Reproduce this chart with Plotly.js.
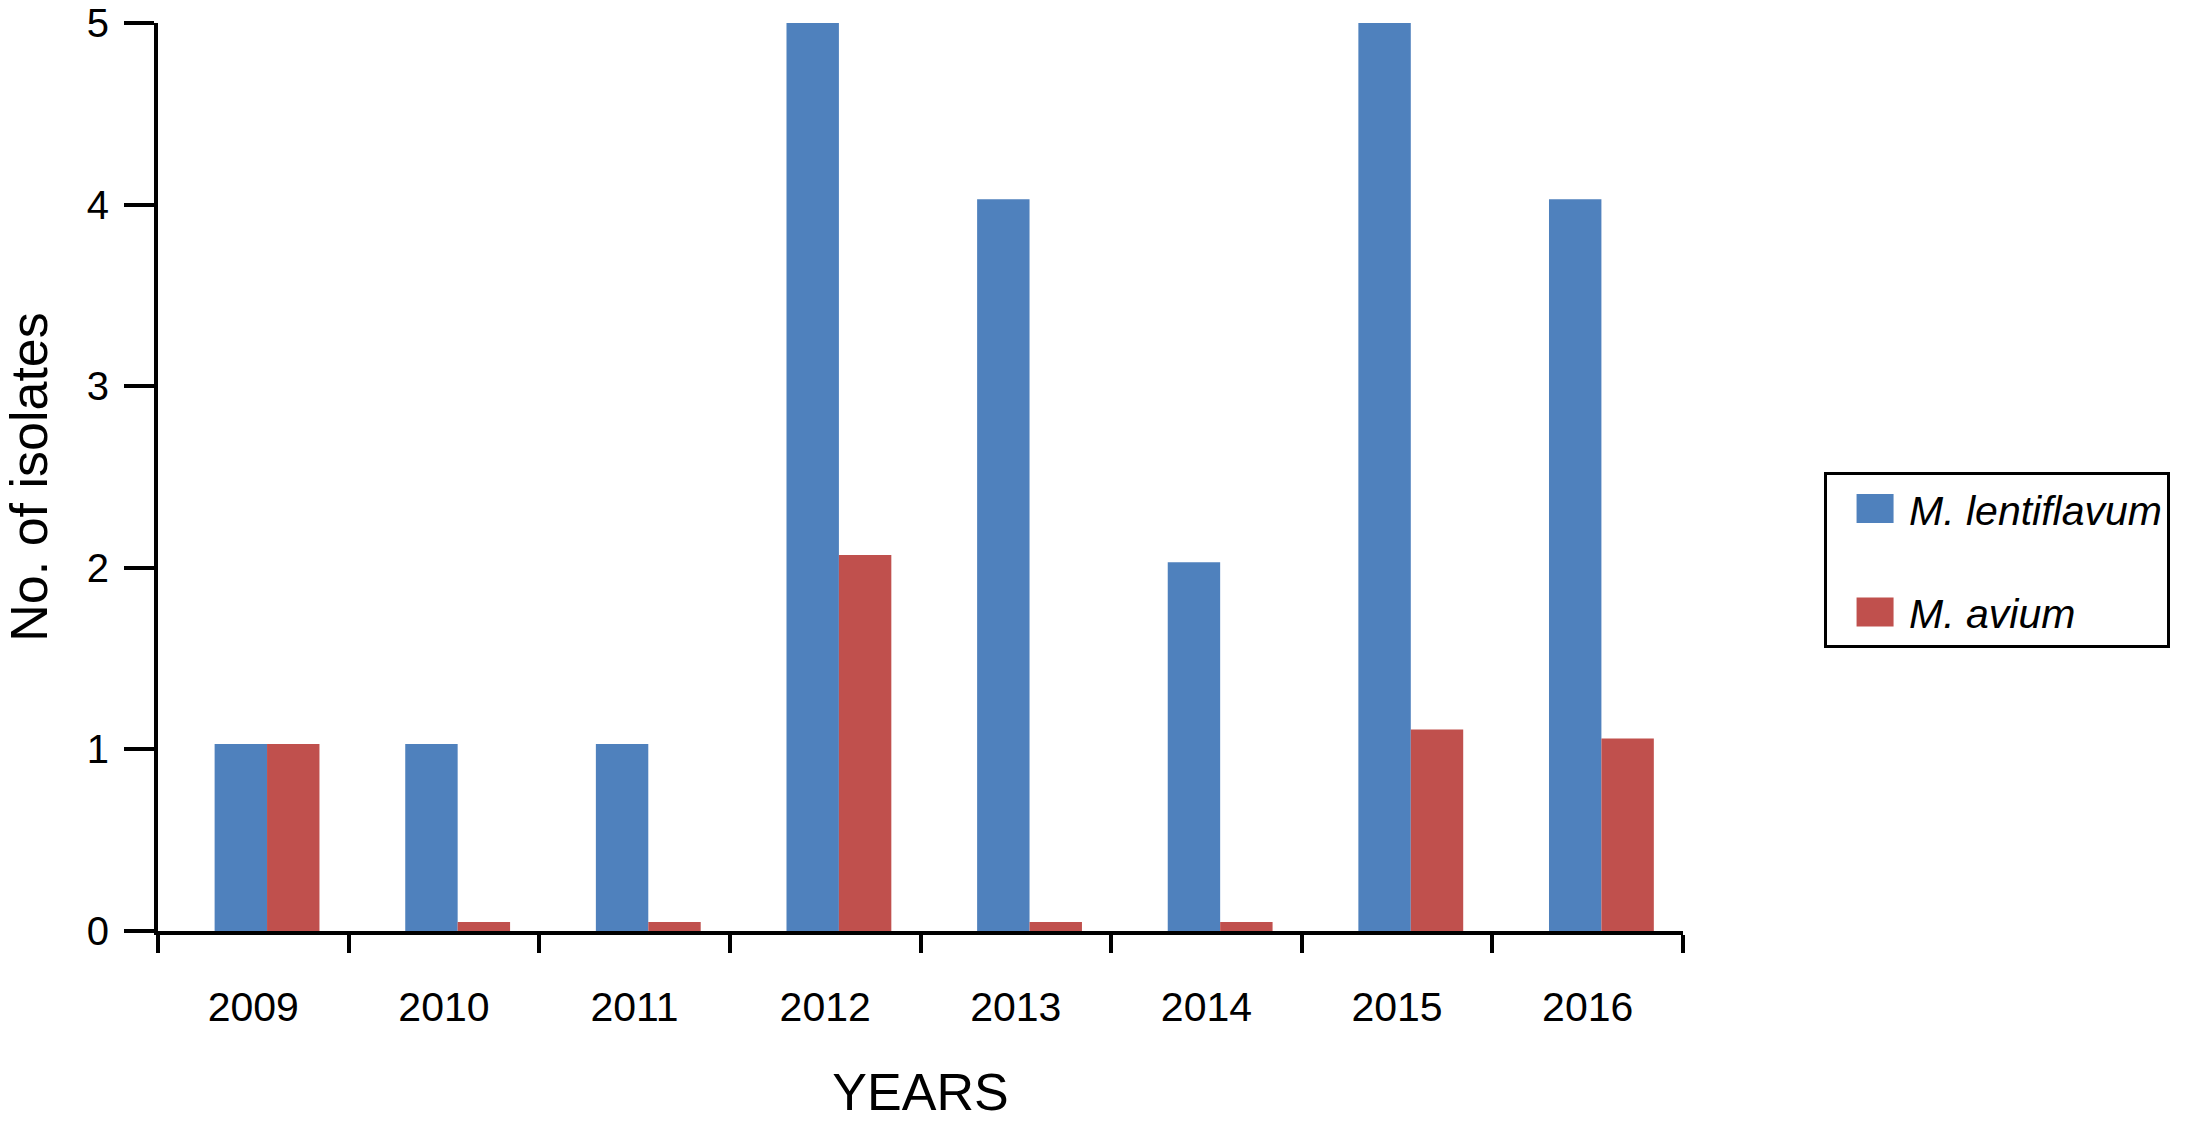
<!DOCTYPE html>
<html><head><meta charset="utf-8">
<script src="https://cdn.plot.ly/plotly-3.0.1.min.js"></script>
<style>html,body{margin:0;padding:0;background:#fff}</style>
</head><body>
<div id="chart" style="width:2186px;height:1127px"></div>
<script>
const years = ['2009','2010','2011','2012','2013','2014','2015','2016'];
const lentiflavum = [1.03, 1.03, 1.03, 5.03, 4.03, 2.03, 5.05, 4.03];
const avium = [1.03, 0.05, 0.05, 2.07, 0.05, 0.05, 1.11, 1.06];
const seriesNames = ['M. lentiflavum', 'M. avium'];
const yTicks = [0, 1, 2, 3, 4, 5];

const FONT = 'Liberation Sans, Arial, Helvetica, sans-serif';

const traces = [
  {type:'bar', x: years, y: lentiflavum, name: seriesNames[0], cliponaxis:false,
   marker:{color:'#4F81BD', line:{width:0}}, width:0.275, offset:-0.203, legendgroup:'a', hoverinfo:'x+y'},
  {type:'bar', x: years, y: avium, name: seriesNames[1], cliponaxis:false,
   marker:{color:'#C0504D', line:{width:0}}, width:0.275, offset:0.072, legendgroup:'b', hoverinfo:'x+y'}
];

const layout = {
  width: 2186, height: 1127,
  margin: {l:158, r:503, t:23, b:196, pad:0},
  paper_bgcolor:'#ffffff', plot_bgcolor:'#ffffff',
  barmode:'overlay',
  font:{family:FONT, color:'#000000'},
  xaxis:{
    type:'category', range:[-0.5, 7.5], tickson:'boundaries',
    ticks:'outside', ticklen:18, tickwidth:4, tickcolor:'#000',
    showline:true, linewidth:4, linecolor:'#000',
    showgrid:false, zeroline:false, automargin:false,
    tickfont:{size:41, family:FONT, color:'#000'}, ticklabelstandoff:37,
    title:{text:'YEARS', font:{size:52, family:FONT, color:'#000'}, standoff:45},
    fixedrange:true
  },
  yaxis:{
    range:[0, 5], tickvals: yTicks,
    ticks:'outside', ticklen:30, tickwidth:4, tickcolor:'#000',
    showline:true, linewidth:4, linecolor:'#000',
    showgrid:false, zeroline:false, automargin:false,
    ticklabeloverflow:'allow',
    tickfont:{size:40, family:FONT, color:'#000'}, ticklabelstandoff:7,
    title:{text:'No. of isolates', font:{size:52, family:FONT, color:'#000'}, standoff:42},
    fixedrange:true
  },
  legend:{
    x:1.0925, xanchor:'left', y:0.505, yanchor:'top',
    bordercolor:'#000', borderwidth:3, bgcolor:'#fff',
    font:{size:41, style:'italic', family:FONT, color:'#000'},
    tracegroupgap:47, itemwidth:72
  },
  showlegend:true
};

function patchLegend(){
  document.querySelectorAll('.legend .legendpoints path').forEach(p => {
    p.setAttribute('d', 'M25.5,14.5H-11.5V-14.5H25.5Z');
  });
}

const gd = document.getElementById('chart');
Plotly.newPlot(gd, traces, layout, {displayModeBar:false, staticPlot:true}).then(() => {
  patchLegend();
  gd.on('plotly_afterplot', patchLegend);
});
</script>
</body></html>
